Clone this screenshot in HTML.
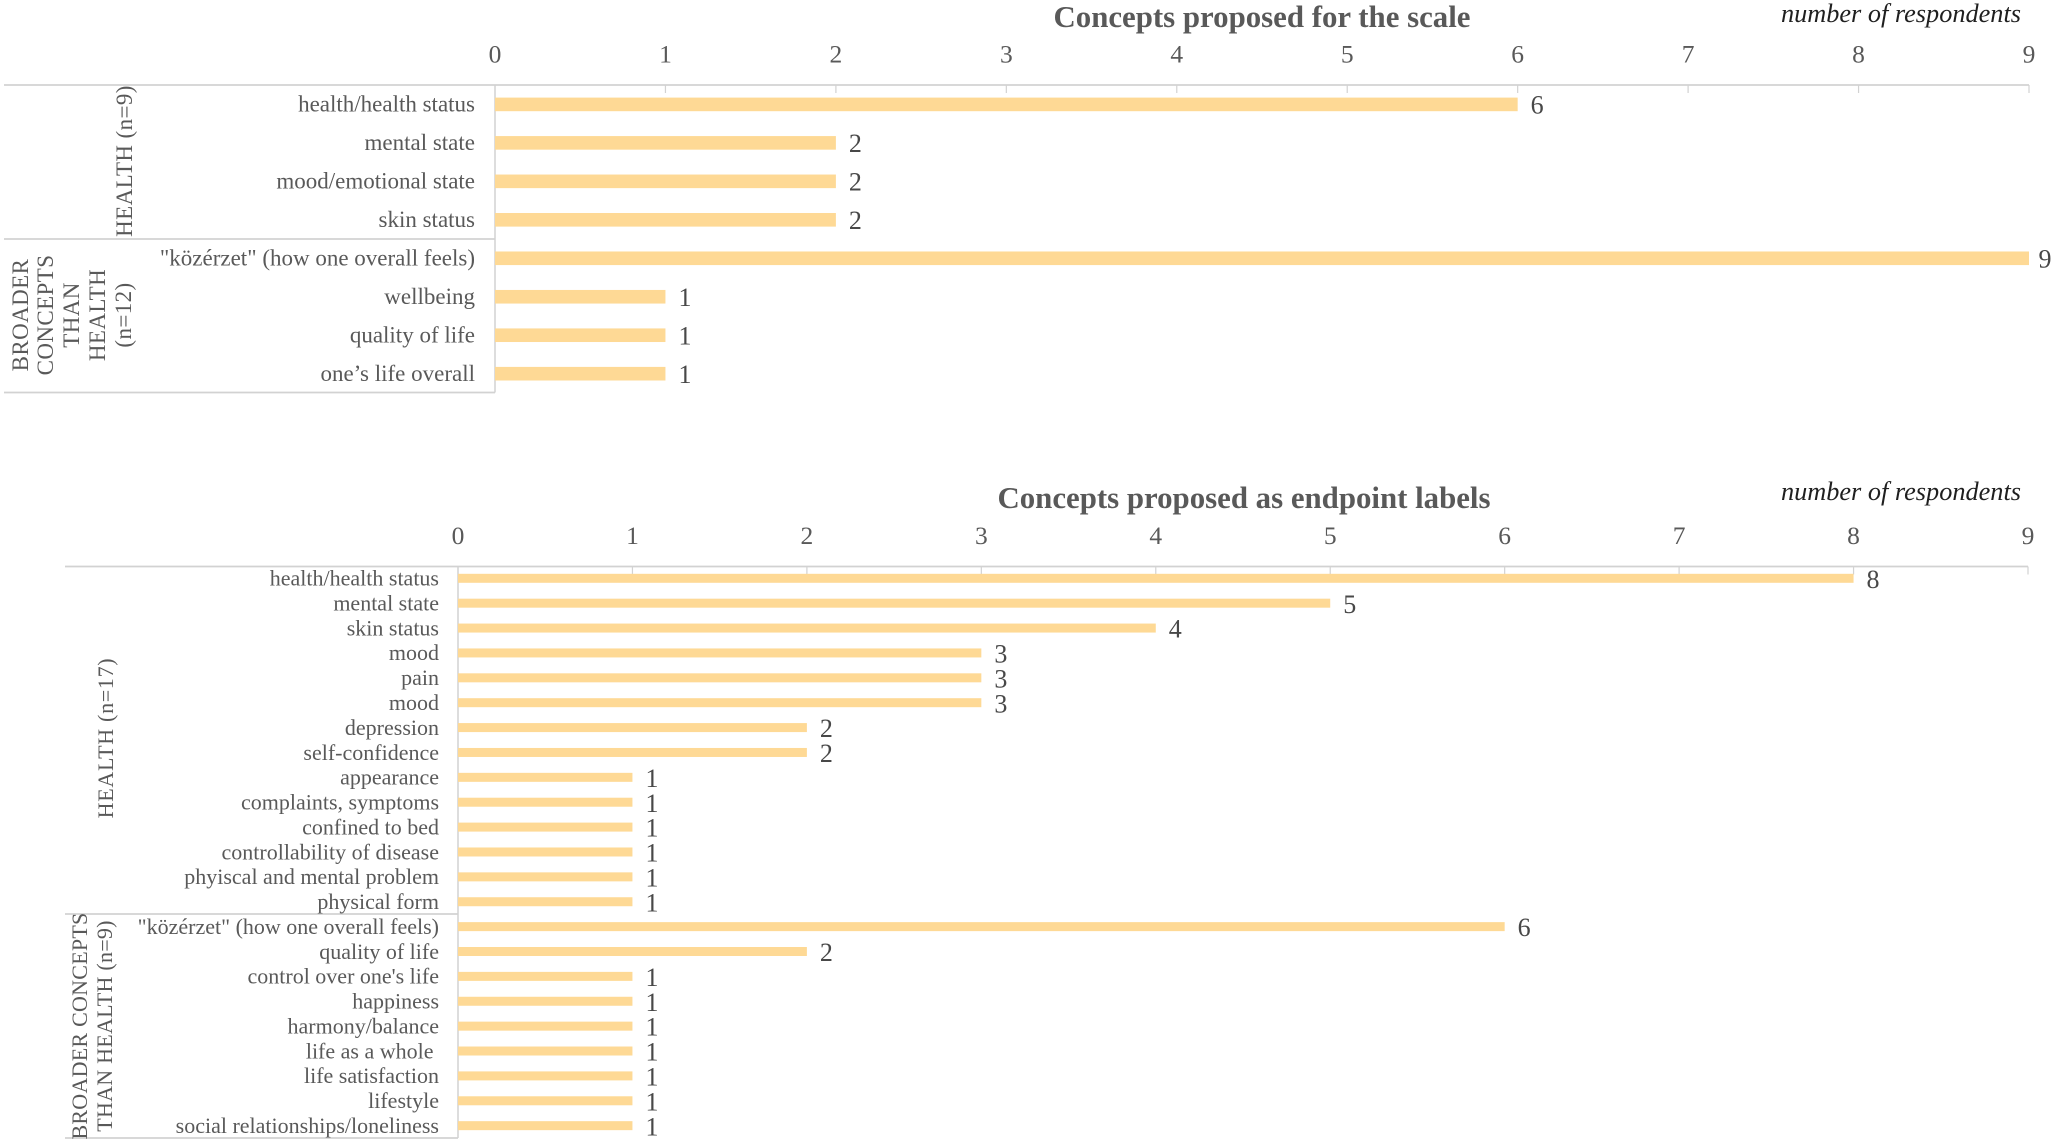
<!DOCTYPE html>
<html lang="en">
<head>
<meta charset="utf-8">
<title>Concepts proposed for the scale and as endpoint labels</title>
<style>
html,body{margin:0;padding:0;background:#fff;}
body{width:2056px;height:1143px;overflow:hidden;}
svg{display:block;font-family:"Liberation Serif",serif;}
</style>
</head>
<body>
<svg id="chart" xmlns="http://www.w3.org/2000/svg" width="2056" height="1143" viewBox="0 0 2056 1143"></svg>
<script>
const axisTicks = [0, 1, 2, 3, 4, 5, 6, 7, 8, 9];

const scaleCategories = ['health/health status', 'mental state', 'mood/emotional state', 'skin status', '"közérzet" (how one overall feels)', 'wellbeing', 'quality of life', 'one\u2019s life overall'];
const scaleValues = [6, 2, 2, 2, 9, 1, 1, 1];
const scaleHealthCount = 4;
const scaleTitle = 'Concepts proposed for the scale';

const endpointCategories = ['health/health status', 'mental state', 'skin status', 'mood', 'pain', 'mood', 'depression', 'self-confidence', 'appearance', 'complaints, symptoms', 'confined to bed', 'controllability of disease', 'phyiscal and mental problem', 'physical form', '"közérzet" (how one overall feels)', 'quality of life', "control over one's life", 'happiness', 'harmony/balance', 'life as a whole\u00a0', 'life satisfaction', 'lifestyle', 'social relationships/loneliness'];
const endpointValues = [8, 5, 4, 3, 3, 3, 2, 2, 1, 1, 1, 1, 1, 1, 6, 2, 1, 1, 1, 1, 1, 1, 1];
const endpointHealthCount = 14;
const endpointTitle = 'Concepts proposed as endpoint labels';

const unitLabel = 'number of respondents';

const svg = document.getElementById('chart');
const NS = 'http://www.w3.org/2000/svg';
const GREY = '#595959', VALUE = '#484848', RULE = '#d2d2d2', BAR = '#fed995';

function line(parent, name, x1, y1, x2, y2, w) {
  const el = document.createElementNS(NS, 'line');
  
  
  el.setAttribute('x1', x1);
  el.setAttribute('y1', y1);
  el.setAttribute('x2', x2);
  el.setAttribute('y2', y2);
  el.setAttribute('stroke', RULE);
  el.setAttribute('stroke-width', w);
  parent.appendChild(el);
}

function text(parent, name, content, x, y, size, anchor, fill, extra) {
  const el = document.createElementNS(NS, 'text');
  
  
  el.setAttribute('x', x);
  el.setAttribute('y', y);
  el.setAttribute('font-size', size);
  el.setAttribute('text-anchor', anchor);
  el.setAttribute('fill', fill);
  if (extra) for (const k in extra) el.setAttribute(k, extra[k]);
  el.textContent = content;
  parent.appendChild(el);
  return el;
}

function rotatedLines(parent, name, lines, xs, cy, size, spacing) {
  lines.forEach((s, i) => {
    text(parent, name + '-line-' + (i + 1), s, 0, 0, size, 'middle', GREY, {
      transform: 'translate(' + xs[i] + ',' + cy + ') rotate(-90)',
      'letter-spacing': spacing
    });
  });
}

function drawChart(opts) {
  const g = document.createElementNS(NS, 'g');
  
  
  svg.appendChild(g);

  const xScale = v => opts.x0 + v * (opts.x9 - opts.x0) / (axisTicks[axisTicks.length - 1] - axisTicks[0]);
  const yScale = i => opts.firstY + i * opts.pitch;

  text(g, 'chart-title', opts.title, opts.titleX, opts.titleBase, 30.85, 'middle', GREY, {'font-weight': 'bold'});
  text(g, 'x-axis-unit-label', unitLabel, 2021, opts.unitBase, 26.3, 'end', '#1f1f1f', {'font-style': 'italic'});

  line(g, 'x-axis-line', opts.left, opts.axisY, opts.x9, opts.axisY, 1.8);
  line(g, 'category-axis-line', opts.x0, opts.axisY, opts.x0, opts.bottomY, 1.5);
  line(g, 'group-separator', opts.left, opts.sepY, opts.x0, opts.sepY, 1.8);
  line(g, 'category-axis-bottom', opts.left, opts.bottomY, opts.x0, opts.bottomY, 1.8);

  axisTicks.forEach(t => {
    if (t > 0) line(g, 'x-tick-' + t, xScale(t), opts.axisY, xScale(t), opts.axisY + 8, 1.2);
    text(g, 'x-tick-label-' + t, String(t), xScale(t), opts.tickBase, 25.5, 'middle', GREY);
  });

  opts.categories.forEach((c, i) => {
    const v = opts.values[i];
    const y = yScale(i);
    text(g, 'category-label-' + (i + 1), c, opts.labelX, y + 7.3, opts.labelSize, 'end', GREY);
    const r = document.createElementNS(NS, 'rect');
    
    
    r.setAttribute('x', xScale(0));
    r.setAttribute('y', y - opts.barH / 2);
    r.setAttribute('width', xScale(v) - xScale(0));
    r.setAttribute('height', opts.barH);
    r.setAttribute('fill', BAR);
    g.appendChild(r);
    text(g, 'value-label-' + (i + 1), String(v), Math.min(xScale(v) + 19.5, 2045), y + opts.valueOffset, 26, 'middle', VALUE);
  });

  rotatedLines(g, 'group-health', opts.healthLines, opts.healthXs, opts.healthY, opts.labelSize, opts.healthSpacing);
  rotatedLines(g, 'group-broader', opts.broadLines, opts.broadXs, opts.broadY, opts.labelSize, opts.broadSpacing);
}

drawChart({
  name: 'scale-concepts-chart', title: scaleTitle, categories: scaleCategories, values: scaleValues,
  x0: 495, x9: 2029, left: 4, axisY: 85, sepY: 239, bottomY: 392.5,
  titleX: 1262, titleBase: 27, unitBase: 22, tickBase: 62.5,
  firstY: 104.4, pitch: 38.47, barH: 13.6, valueOffset: 9.3, labelX: 475, labelSize: 23,
  healthLines: ['HEALTH (n=' + 9 + ')'], healthXs: [132], healthY: 161, healthSpacing: 0.4,
  broadLines: ['BROADER', 'CONCEPTS', 'THAN', 'HEALTH', '(n=12)'], broadXs: [28, 53, 79, 105, 131], broadY: 315, broadSpacing: 0.4
});

drawChart({
  name: 'endpoint-concepts-chart', title: endpointTitle, categories: endpointCategories, values: endpointValues,
  x0: 458, x9: 2028, left: 65, axisY: 566.5, sepY: 914, bottomY: 1138,
  titleX: 1244, titleBase: 508, unitBase: 500, tickBase: 544,
  firstY: 578.3, pitch: 24.88, barH: 9, valueOffset: 9.6, labelX: 439, labelSize: 22,
  healthLines: ['HEALTH (n=' + 17 + ')'], healthXs: [113], healthY: 738, healthSpacing: 0.7,
  broadLines: ['BROADER CONCEPTS', 'THAN HEALTH (n=9)'], broadXs: [87, 112], broadY: 1026, broadSpacing: 0.25
});
</script>
</body>
</html>
